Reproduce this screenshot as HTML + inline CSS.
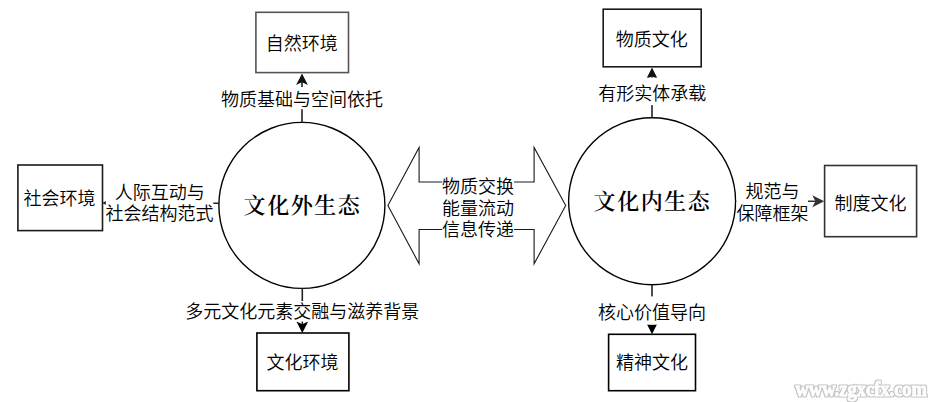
<!DOCTYPE html>
<html lang="zh-CN">
<head>
<meta charset="utf-8">
<title>文化生态</title>
<style>
html,body{margin:0;padding:0;background:#fff;}
body{width:933px;height:402px;overflow:hidden;position:relative;}
svg{position:absolute;left:0;top:0;display:block;}
text{font-family:"Liberation Sans","Noto Sans CJK SC",sans-serif;fill:#000;font-weight:350;}
.lbl{font-size:18px;}
.box{font-size:18px;}
.ttl{font-family:"Liberation Serif","Noto Serif CJK SC",serif;font-weight:600;font-size:22px;letter-spacing:1.55px;}
.wm{font-family:"Liberation Serif",serif;font-weight:bold;font-size:20.5px;fill:#fdfdfd;stroke:#fdfdfd;stroke-width:0.9;stroke-linejoin:round;}
</style>
</head>
<body>
<svg width="933" height="402" viewBox="0 0 933 402">
<defs>
<filter id="ol" x="-5%" y="-40%" width="110%" height="180%">
  <feMorphology in="SourceAlpha" operator="dilate" radius="1.1" result="d"/>
  <feGaussianBlur in="d" stdDeviation="0.45" result="b"/>
  <feFlood flood-color="#c4c4c4"/>
  <feComposite in2="b" operator="in" result="o"/>
  <feMerge><feMergeNode in="o"/><feMergeNode in="SourceGraphic"/></feMerge>
</filter>
</defs>
<rect width="933" height="402" fill="#fff"/>
<!-- circles -->
<g fill="#fff" stroke="#000" stroke-width="1.4">
  <circle cx="301.9" cy="205.4" r="83"/>
  <circle cx="652.1" cy="201.2" r="83.5"/>
</g>
<!-- boxes -->
<g fill="#fff" stroke-width="1.6">
  <rect x="255.9" y="12.3" width="92.6" height="60.3" stroke="#555"/>
  <rect x="256.9" y="333" width="92" height="57.7" stroke="#000"/>
  <rect x="17.9" y="165" width="84.6" height="65.6" stroke="#1a1a1a"/>
  <rect x="603.2" y="9.2" width="98" height="57.6" stroke="#1a1a1a"/>
  <rect x="608.6" y="334.3" width="86.9" height="56.4" stroke="#000"/>
  <rect x="824.6" y="165.5" width="92" height="71.2" stroke="#333"/>
</g>
<!-- double arrow -->
<path d="M387.9 205.6 L419.1 147.4 L419.1 182 L534.1 182 L534.1 147.4 L565.7 205.6 L534.1 263.8 L534.1 229.5 L419.1 229.5 L419.1 263.8 Z" fill="#fff" stroke="#1a1a1a" stroke-width="1.1" stroke-miterlimit="10"/>
<!-- connectors -->
<g stroke="#222" stroke-width="1.6" fill="none">
  <line x1="302" y1="122.7" x2="302" y2="80"/>
  <line x1="302.3" y1="288.1" x2="302.3" y2="326"/>
  <line x1="219" y1="203.2" x2="108" y2="203.2"/>
  <line x1="652" y1="117.7" x2="652" y2="74"/>
  <line x1="652" y1="284.6" x2="652" y2="327"/>
  <line x1="736" y1="201.3" x2="817" y2="201.3" stroke="#333"/>
</g>
<g stroke="none">
  <path d="M302 73.4 L307.9 85 L302 82.3 L296.1 85 Z" fill="#111"/>
  <path d="M302.3 333 L308.2 321.6 L302.3 324.3 L296.4 321.6 Z" fill="#000"/>
  <path d="M102.1 203 L113.8 208.9 L111 203 L113.8 197.1 Z" fill="#222"/>
  <path d="M652 67.6 L657.9 79.2 L652 76.5 L646.1 79.2 Z" fill="#111"/>
  <path d="M652 334.2 L657.9 322.6 L652 325.3 L646.1 322.6 Z" fill="#000"/>
  <path d="M824.2 201.3 L812.3 207.3 L815.4 201.3 L812.3 195.3 Z" fill="#333"/>
</g>
<!-- label backgrounds -->
<g fill="#fff">
  <rect x="221" y="87" width="162" height="22.2"/>
  <rect x="185.3" y="301.1" width="234" height="20.5"/>
  <rect x="105.8" y="181" width="107.5" height="44"/>
  <rect x="598" y="77.6" width="108" height="27.5"/>
  <rect x="598" y="296.4" width="108" height="28.3"/>
  <rect x="736.5" y="180" width="71.5" height="44"/>
  <rect x="442.2" y="172" width="71.9" height="68"/>
</g>
<g text-anchor="middle">
  <text class="box" x="301.8" y="49.5">自然环境</text>
  <text class="box" x="302.5" y="369">文化环境</text>
  <text class="box" x="59.5" y="204.5">社会环境</text>
  <text class="box" x="651.7" y="45.5">物质文化</text>
  <text class="box" x="652" y="369">精神文化</text>
  <text class="box" x="870.5" y="209.5">制度文化</text>
  <text class="lbl" x="302" y="105.5">物质基础与空间依托</text>
  <text class="lbl" x="302.3" y="318.2">多元文化元素交融与滋养背景</text>
  <text class="lbl" x="159.7" y="199">人际互动与</text>
  <text class="lbl" x="159.5" y="219.7">社会结构范式</text>
  <text class="lbl" x="652.3" y="100.4">有形实体承载</text>
  <text class="lbl" x="652" y="318.5">核心价值导向</text>
  <text class="lbl" x="772.5" y="198.3">规范与</text>
  <text class="lbl" x="772.4" y="219.5">保障框架</text>
  <text class="lbl" x="478.1" y="193">物质交换</text>
  <text class="lbl" x="478.1" y="214.6">能量流动</text>
  <text class="lbl" x="478.1" y="236.2">信息传递</text>
  <text class="ttl" x="302.5" y="213.3">文化外生态</text>
  <text class="ttl" x="652.5" y="208.9">文化内生态</text>
</g>
<text class="wm" filter="url(#ol)" x="795.5" y="396.3" textLength="131.5" lengthAdjust="spacingAndGlyphs">www.zgxcfx.com</text>
</svg>
</body>
</html>
